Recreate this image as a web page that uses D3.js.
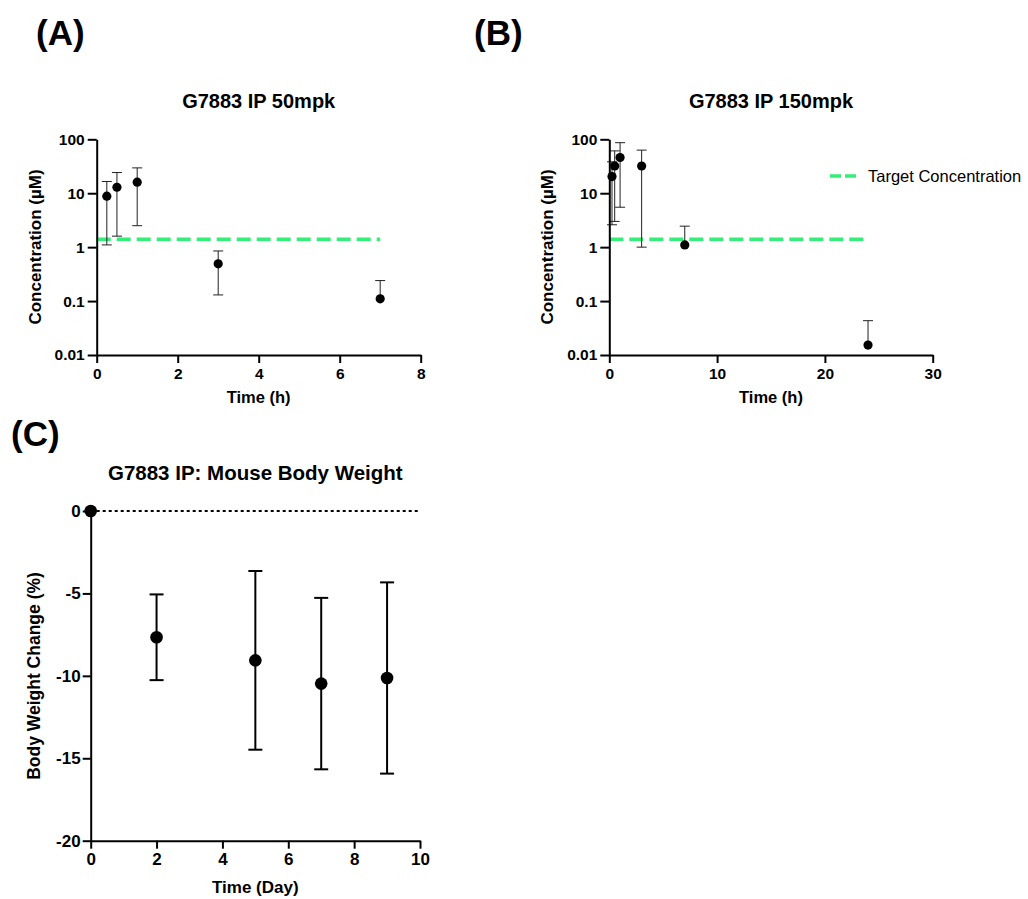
<!DOCTYPE html>
<html>
<head>
<meta charset="utf-8">
<script src="https://cdn.jsdelivr.net/npm/d3@7"></script>
<style>
  body { margin: 0; background: #fff; }
  text { font-family: "Liberation Sans", Arial, sans-serif; }
</style>
</head>
<body>
<div id="my_dataviz"></div>
<script>
// panel A : 50mpk
const timeA = [0.25, 0.5, 1, 3, 7];
const concA = [8.8, 12.9, 16, 0.49, 0.11];
const sdA = [7.7, 11.3, 13.5, 0.36, 0.13];

// panel B : 150mpk
const timeB = [0.25, 0.5, 1, 3, 7, 24];
const concB = [20.4, 32, 46, 32, 1.1, 0.0153];
const sdB = [17.8, 29, 40.5, 31, 1.35, 0.028];

// target concentration line
const targetConc = 1.4;
const targetSpanA = [0, 7];
const targetSpanB = [0, 24];

// panel C : body weight
const dayC = [0, 2, 5, 7, 9];
const weightC = [0, -7.66, -9.06, -10.47, -10.13];
const sdC = [0, 2.6, 5.42, 5.2, 5.8];

// ticks
const logTicks = [0.01, 0.1, 1, 10, 100];
const xTicksA = [0, 2, 4, 6, 8];
const xTicksB = [0, 10, 20, 30];
const xTicksC = [0, 2, 4, 6, 8, 10];
const yTicksC = [0, -5, -10, -15, -20];

const green = "#33ee77";

const svg = d3.select("#my_dataviz")
  .append("svg")
  .attr("width", 1028)
  .attr("height", 899);

// panel letters
svg.append("text").attr("x", 36).attr("y", 45).text("(A)")
  .style("font-size", "35px").style("font-weight", "bold");
svg.append("text").attr("x", 474).attr("y", 45).text("(B)")
  .style("font-size", "35px").style("font-weight", "bold");
svg.append("text").attr("x", 11).attr("y", 446).text("(C)")
  .style("font-size", "35px").style("font-weight", "bold");

function styleAxis(g, fontSize) {
  g.select(".domain").attr("stroke-width", 2);
  g.selectAll(".tick line").attr("stroke-width", 2);
  g.selectAll(".tick text")
    .style("font-size", fontSize + "px")
    .style("font-weight", "bold")
    .style("font-family", '"Liberation Sans", Arial, sans-serif')
    .attr("fill", "#000");
}

// plain text labels, hyphen for negatives like the original
const plain = function (d) { return String(d); };

function logPanel(opt) {
  const x = d3.scaleLinear().domain(opt.xDomain).range([opt.left, opt.right]);
  const y = d3.scaleLog().domain([0.01, 100]).range([355, 139.3]);

  // target line
  svg.append("line")
    .attr("x1", x(opt.span[0])).attr("x2", x(opt.span[1]))
    .attr("y1", y(targetConc)).attr("y2", y(targetConc))
    .attr("stroke", green).attr("stroke-width", 3.5)
    .attr("stroke-dasharray", "14,6");

  // error bars
  const g = svg.append("g");
  opt.xs.forEach(function (t, i) {
    const hi = opt.ys[i] + opt.sd[i];
    const lo = opt.ys[i] - opt.sd[i];
    const yLo = lo > 0 ? y(lo) : y(opt.ys[i]);
    g.append("line")
      .attr("x1", x(t)).attr("x2", x(t))
      .attr("y1", y(hi)).attr("y2", yLo)
      .attr("stroke", "#222").attr("stroke-width", 1);
    g.append("line")
      .attr("x1", x(t) - 5).attr("x2", x(t) + 5)
      .attr("y1", y(hi)).attr("y2", y(hi))
      .attr("stroke", "#222").attr("stroke-width", 1);
    if (lo > 0) {
      g.append("line")
        .attr("x1", x(t) - 5).attr("x2", x(t) + 5)
        .attr("y1", y(lo)).attr("y2", y(lo))
        .attr("stroke", "#222").attr("stroke-width", 1);
    }
  });

  // points
  svg.append("g")
    .selectAll("circle")
    .data(opt.xs)
    .join("circle")
    .attr("cx", function (d) { return x(d); })
    .attr("cy", function (d, i) { return y(opt.ys[i]); })
    .attr("r", 4.6)
    .attr("fill", "#000");

  // axes
  const gx = svg.append("g")
    .attr("transform", "translate(0,355)")
    .call(d3.axisBottom(x).tickValues(opt.xTicks).tickFormat(plain)
      .tickSize(8).tickSizeOuter(0).tickPadding(5));
  styleAxis(gx, 15.5);
  const gy = svg.append("g")
    .attr("transform", `translate(${opt.left},0)`)
    .call(d3.axisLeft(y).tickValues(logTicks).tickFormat(plain)
      .tickSize(9).tickSizeOuter(0).tickPadding(3));
  styleAxis(gy, 15.5);

  // titles
  const cx = (opt.left + opt.right) / 2;
  svg.append("text").attr("x", cx).attr("y", 108).attr("text-anchor", "middle")
    .text(opt.title).style("font-size", "20px").style("font-weight", "bold");
  svg.append("text").attr("x", cx).attr("y", 403).attr("text-anchor", "middle")
    .text("Time (h)").style("font-size", "16.5px").style("font-weight", "bold");
  svg.append("text")
    .attr("transform", "rotate(-90)")
    .attr("x", -247).attr("y", opt.left - 56)
    .attr("text-anchor", "middle")
    .text("Concentration (µM)").style("font-size", "17px").style("font-weight", "bold");
}

logPanel({ xs: timeA, ys: concA, sd: sdA, xDomain: [0, 8], xTicks: xTicksA,
  left: 96.7, right: 420.7, span: targetSpanA, title: "G7883 IP 50mpk" });
logPanel({ xs: timeB, ys: concB, sd: sdB, xDomain: [0, 30], xTicks: xTicksB,
  left: 609.3, right: 932.7, span: targetSpanB, title: "G7883 IP 150mpk" });

// legend for the target line
svg.append("line")
  .attr("x1", 830).attr("x2", 856).attr("y1", 176).attr("y2", 176)
  .attr("stroke", green).attr("stroke-width", 3.5).attr("stroke-dasharray", "11,4");
svg.append("text").attr("x", 868).attr("y", 182)
  .text("Target Concentration").style("font-size", "16.5px");

// ---------------- panel C ----------------
const xC = d3.scaleLinear().domain([0, 10]).range([90.7, 420]);
const yC = d3.scaleLinear().domain([-20, 0]).range([840.7, 511]);

svg.append("line")
  .attr("x1", xC(0)).attr("x2", xC(10)).attr("y1", yC(0)).attr("y2", yC(0))
  .attr("stroke", "#000").attr("stroke-width", 2).attr("stroke-dasharray", "3,3");

const gC = svg.append("g");
dayC.forEach(function (d, i) {
  if (sdC[i] <= 0) return;
  const hi = weightC[i] + sdC[i];
  const lo = weightC[i] - sdC[i];
  gC.append("line")
    .attr("x1", xC(d)).attr("x2", xC(d)).attr("y1", yC(hi)).attr("y2", yC(lo))
    .attr("stroke", "#000").attr("stroke-width", 2);
  [hi, lo].forEach(function (v) {
    gC.append("line")
      .attr("x1", xC(d) - 7).attr("x2", xC(d) + 7).attr("y1", yC(v)).attr("y2", yC(v))
      .attr("stroke", "#000").attr("stroke-width", 2);
  });
});

const gxC = svg.append("g")
  .attr("transform", `translate(0,${yC(-20)})`)
  .call(d3.axisBottom(xC).tickValues(xTicksC).tickFormat(plain)
    .tickSize(8).tickSizeOuter(0).tickPadding(4));
styleAxis(gxC, 17);
const gyC = svg.append("g")
  .attr("transform", `translate(${xC(0)},0)`)
  .call(d3.axisLeft(yC).tickValues(yTicksC).tickFormat(plain)
    .tickSize(8).tickSizeOuter(0).tickPadding(2));
styleAxis(gyC, 17);

svg.append("g")
  .selectAll("circle")
  .data(dayC)
  .join("circle")
  .attr("cx", function (d) { return xC(d); })
  .attr("cy", function (d, i) { return yC(weightC[i]); })
  .attr("r", 6.3)
  .attr("fill", "#000");

svg.append("text").attr("x", 255.3).attr("y", 480).attr("text-anchor", "middle")
  .text("G7883 IP: Mouse Body Weight").style("font-size", "20.5px").style("font-weight", "bold");
svg.append("text").attr("x", 255.3).attr("y", 893).attr("text-anchor", "middle")
  .text("Time (Day)").style("font-size", "17px").style("font-weight", "bold");
svg.append("text")
  .attr("transform", "rotate(-90)")
  .attr("x", -676).attr("y", 40)
  .attr("text-anchor", "middle")
  .text("Body Weight Change (%)").style("font-size", "17.5px").style("font-weight", "bold");
</script>
</body>
</html>
